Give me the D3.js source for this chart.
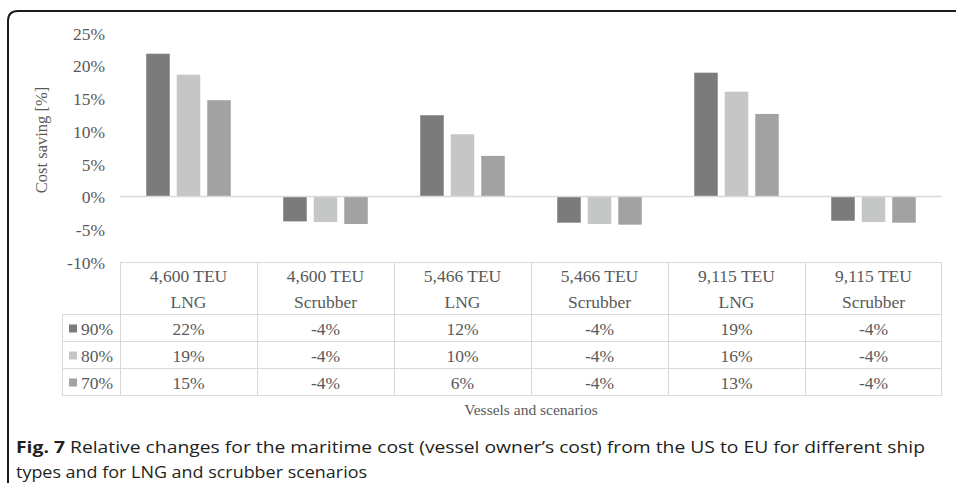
<!DOCTYPE html>
<html>
<head>
<meta charset="utf-8">
<script src="https://cdn.jsdelivr.net/npm/d3@7"></script>
<style>
  body { margin: 0; background: #fff; }
  svg { display: block; }
</style>
</head>
<body>
<div id="chart"></div>
<script>
// categories (two-line labels) and series
var categories = ["4,600 TEU|LNG", "4,600 TEU|Scrubber", "5,466 TEU|LNG",
                  "5,466 TEU|Scrubber", "9,115 TEU|LNG", "9,115 TEU|Scrubber"];
var seriesNames = ["90%", "80%", "70%"];
var values90 = [21.8, -3.8, 12.4, -4.0, 18.9, -3.7];
var values80 = [18.6, -3.9, 9.5, -4.2, 16.0, -3.9];
var values70 = [14.7, -4.2, 6.2, -4.3, 12.6, -4.0];
var yTicks = [-10, -5, 0, 5, 10, 15, 20, 25];
var colors = ["#7b7b7b", "#c5c7c6", "#a2a2a2"];

var series = [values90, values80, values70];

var W = 956, H = 483;
var plot = { left: 120, right: 942, top: 32.75, bottom: 262 };
var rowH = 27, headH = 52;
var textColor = "#595959", gridColor = "#d9d9d9";
var serif = "'Liberation Serif', 'Times New Roman', serif";
var fs = "17.5px";

var svg = d3.select("#chart").append("svg")
    .attr("width", W)
    .attr("height", H);

// frame (only top and left edges, rounded corner)
svg.append("path")
    .attr("d", "M8," + H + " L8,21 Q8,11 18,11 L" + W + ",11")
    .attr("fill", "none")
    .attr("stroke", "#1c1c1c")
    .attr("stroke-width", 2);

var x = d3.scaleBand()
    .domain(categories)
    .range([plot.left, plot.right]);

var x1 = d3.scaleBand()
    .domain(seriesNames)
    .range([0, x.bandwidth()])
    .paddingInner(0.23)
    .paddingOuter(0.86);

var y = d3.scaleLinear()
    .domain([-10, 25])
    .range([plot.bottom, plot.top]);

// y tick labels
var yAxis = d3.axisLeft(y)
    .tickValues(yTicks)
    .tickSize(0)
    .tickPadding(0)
    .tickFormat(function(d) { return d + "%"; });

var gy = svg.append("g")
    .attr("transform", "translate(105,0)")
    .call(yAxis);
gy.select(".domain").remove();
gy.selectAll("text")
    .attr("dy", "0.37em")
    .style("font-family", serif)
    .style("font-size", fs)
    .attr("fill", textColor);

svg.append("text")
    .attr("transform", "translate(47,140) rotate(-90)")
    .attr("text-anchor", "middle")
    .style("font-family", serif)
    .style("font-size", "16.5px")
    .attr("fill", textColor)
    .text("Cost saving [%]");

// bars
var groups = svg.selectAll(".group")
    .data(categories)
    .enter().append("g")
    .attr("class", "group")
    .attr("transform", function(d) { return "translate(" + x(d) + ",0)"; });

groups.selectAll("rect")
    .data(function(d, i) {
        return seriesNames.map(function(s, j) { return { s: s, v: series[j][i], j: j }; });
    })
    .enter().append("rect")
    .attr("x", function(d) { return x1(d.s); })
    .attr("width", x1.bandwidth())
    .attr("y", function(d) { return y(Math.max(0, d.v)); })
    .attr("height", function(d) { return Math.abs(y(d.v) - y(0)); })
    .attr("fill", function(d) { return colors[d.j]; });

// zero line
svg.append("line")
    .attr("x1", plot.left).attr("x2", plot.right)
    .attr("y1", y(0)).attr("y2", y(0))
    .attr("stroke", gridColor)
    .attr("stroke-width", 1.5);

// data table
var table = svg.append("g");
var tTop = plot.bottom;
var legendLeft = 62;
var tBottom = tTop + headH + rowH * seriesNames.length;

function hline(x1_, x2_, yy) {
    table.append("line").attr("x1", x1_).attr("x2", x2_).attr("y1", yy).attr("y2", yy)
        .attr("stroke", gridColor).attr("stroke-width", 1);
}
function vline(xx, y1_, y2_) {
    table.append("line").attr("x1", xx).attr("x2", xx).attr("y1", y1_).attr("y2", y2_)
        .attr("stroke", gridColor).attr("stroke-width", 1);
}

hline(plot.left, plot.right, tTop + 0.5);
for (var r = 0; r <= seriesNames.length; r++) {
    hline(legendLeft, plot.right, tTop + headH + r * rowH + 0.5);
}
vline(legendLeft + 0.5, tTop + headH, tBottom);
categories.forEach(function(c) { vline(Math.round(x(c)) + 0.5, tTop, tBottom); });
vline(plot.right - 0.5, tTop, tBottom);

// header labels
categories.forEach(function(c) {
    var parts = c.split("|");
    var t = table.append("text")
        .attr("text-anchor", "middle")
        .style("font-family", serif)
        .style("font-size", fs)
        .attr("fill", textColor);
    t.append("tspan").attr("x", x(c) + x.bandwidth() / 2).attr("y", tTop + 20).text(parts[0]);
    t.append("tspan").attr("x", x(c) + x.bandwidth() / 2).attr("y", tTop + 45.5).text(parts[1]);
});

// rows
seriesNames.forEach(function(s, j) {
    var cy = tTop + headH + j * rowH + rowH / 2 + 1;
    table.append("rect")
        .attr("x", 69).attr("y", cy - 4)
        .attr("width", 8).attr("height", 8)
        .attr("fill", colors[j]);
    table.append("text")
        .attr("x", 81).attr("y", cy + 6.5)
        .style("font-family", serif)
        .style("font-size", fs)
        .attr("fill", textColor)
        .text(s);
    categories.forEach(function(c, i) {
        table.append("text")
            .attr("x", x(c) + x.bandwidth() / 2)
            .attr("y", cy + 6.5)
            .attr("text-anchor", "middle")
            .style("font-family", serif)
            .style("font-size", fs)
            .attr("fill", textColor)
            .text(Math.round(series[j][i]) + "%");
    });
});

svg.append("text")
    .attr("x", (plot.left + plot.right) / 2)
    .attr("y", 415)
    .attr("text-anchor", "middle")
    .style("font-family", serif)
    .style("font-size", "15.5px")
    .attr("fill", textColor)
    .text("Vessels and scenarios");

// caption
var cap1 = svg.append("text")
    .attr("x", 16).attr("y", 453)
    .attr("textLength", 909)
    .attr("lengthAdjust", "spacingAndGlyphs")
    .style("font-family", "'Open Sans', sans-serif")
    .style("font-size", "16.5px")
    .attr("fill", "#231f20");
cap1.append("tspan").style("font-weight", "bold").text("Fig. 7");
cap1.append("tspan").text(" Relative changes for the maritime cost (vessel owner\u2019s cost) from the US to EU for different ship");

svg.append("text")
    .attr("x", 16).attr("y", 478)
    .attr("textLength", 351)
    .attr("lengthAdjust", "spacingAndGlyphs")
    .style("font-family", "'Open Sans', sans-serif")
    .style("font-size", "16.5px")
    .attr("fill", "#231f20")
    .text("types and for LNG and scrubber scenarios");
</script>
</body>
</html>
